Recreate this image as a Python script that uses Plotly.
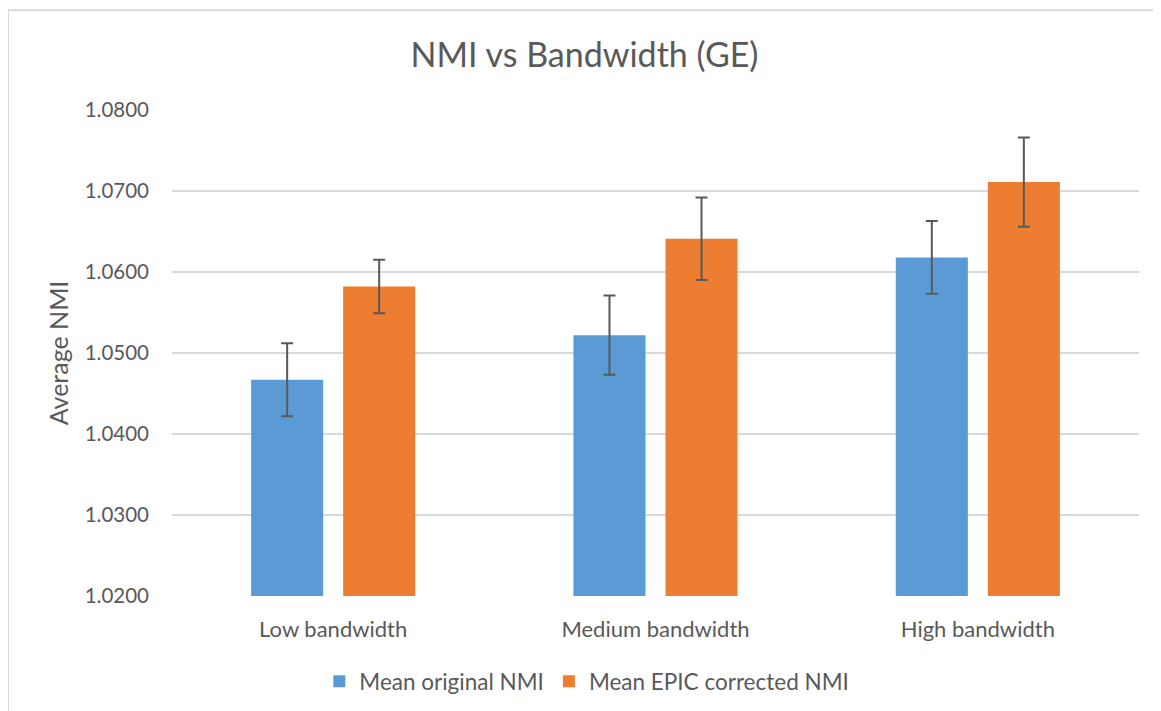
import plotly.graph_objects as go

categories = ["Low bandwidth", "Medium bandwidth", "High bandwidth"]
original_nmi = [1.0467, 1.0522, 1.0618]
original_err = [0.0045, 0.0049, 0.0045]
epic_nmi = [1.0582, 1.0641, 1.0711]
epic_err = [0.0033, 0.0051, 0.0055]
y_ticks = [1.02, 1.03, 1.04, 1.05, 1.06, 1.07, 1.08]
y_tick_labels = ["%.4f" % v for v in y_ticks]

FONT = "Lato"
TXT = "#595959"
ERRC = "#595959"

W, H = 1153, 703

fig = go.Figure()
fig.add_trace(go.Bar(
    name="Mean original NMI", x=categories, y=original_nmi,
    marker=dict(color="#5b9bd5", line=dict(width=0)),
    error_y=dict(type="data", array=original_err, color=ERRC, thickness=2, width=6),
))
fig.add_trace(go.Bar(
    name="Mean EPIC corrected NMI", x=categories, y=epic_nmi,
    marker=dict(color="#ed7d31", line=dict(width=0)),
    error_y=dict(type="data", array=epic_err, color=ERRC, thickness=2, width=6),
))

fig.update_layout(
    width=W, height=H,
    margin=dict(l=164, r=22, t=102, b=115, autoexpand=False),
    paper_bgcolor="white", plot_bgcolor="white",
    barmode="group", bargap=0.429, bargroupgap=0.217,
    font=dict(family=FONT, color=TXT, size=20),
    title=dict(text="NMI vs Bandwidth (GE)", x=0.5, xref="container", xanchor="center",
               y=1 - 47 / H, yanchor="middle",
               font=dict(family=FONT, size=34, color=TXT)),
    showlegend=True,
    legend=dict(orientation="h", x=0.429, xanchor="center", y=-0.176, yanchor="middle",
                font=dict(family=FONT, size=22.5, color=TXT), traceorder="normal"),
    shapes=[
        dict(type="line", xref="paper", yref="paper", x0=-0.1696, x1=-0.1696, y0=-0.25, y1=1.205,
             line=dict(color="#d9d9d9", width=2)),
        dict(type="line", xref="paper", yref="paper", x0=-0.1696, x1=1.03, y0=1.205, y1=1.205,
             line=dict(color="#d9d9d9", width=2)),
    ],
)
fig.update_xaxes(showline=False, showgrid=False, ticks="", tickfont=dict(size=22, color=TXT),
                 ticklabelstandoff=18, automargin=False)
fig.update_yaxes(range=[1.02, 1.08], tickvals=y_ticks, ticktext=y_tick_labels,
                 showgrid=True, gridcolor="#d9d9d9", gridwidth=2, zeroline=False,
                 showline=False, ticks="", ticklabelstandoff=22, automargin=False,
                 tickfont=dict(size=20.5, color=TXT),
                 title=dict(text="Average NMI", font=dict(size=25, color=TXT), standoff=8))

fig.write_html("out.html")
